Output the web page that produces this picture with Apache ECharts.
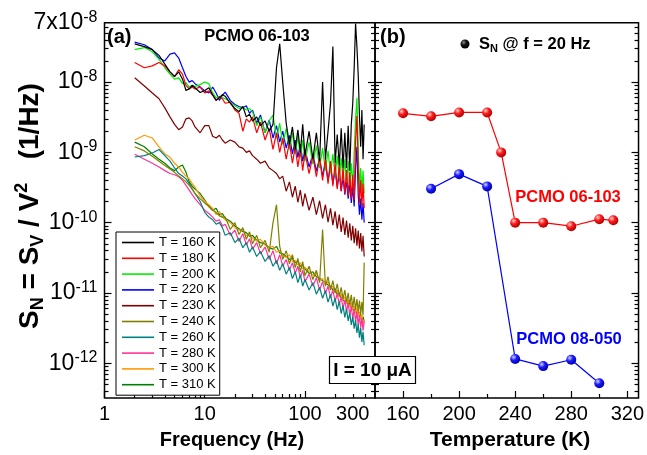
<!DOCTYPE html>
<html><head><meta charset="utf-8">
<script src="https://cdn.jsdelivr.net/npm/echarts@6/dist/echarts.min.js"></script>
<style>html,body{margin:0;padding:0;background:#fff}#c{width:647px;height:455px}</style>
</head><body><div id="c"></div>
<script>
// ---------- DATA ----------
const freq = [2,2.5,3,3.5,4,4.5,5,5.5,6,6.5,7,7.5,8,9,10,11,12,13,14,15,16,18,20,22,24,26,28,30,33,36,40,44,48,52,56,60,65,70,75,80,85,90,95,100,110,120,130,140,150,160,170,180,190,200,210,220,230,240,250,260,270,280,290,300,310,320,330,340,350,360,370,380,390];
const s160 = [3.5e-8,3.2e-8,2.9e-8,2.4e-8,1.8e-8,1.4e-8,1.2e-8,1.4e-8,1.1e-8,7.6e-9,
8e-9,9e-9,8.3e-9,7.1e-9,7.6e-9,8.3e-9,6.6e-9,5.5e-9,6e-9,6.6e-9,
6.3e-9,5e-9,4.2e-9,3.8e-9,4.5e-9,3.2e-9,3.5e-9,2.8e-9,3.2e-9,2.4e-9,
2.8e-9,2e-9,2.5e-9,1.6e-8,3.5e-8,1e-8,2.6e-9,1.3e-9,2.3e-9,1.1e-9,
2.1e-9,1e-9,2.5e-9,9e-10,2e-9,8e-10,1.9e-9,7.5e-10,1e-8,8e-10,
2e-9,5e-9,3.2e-8,7e-10,1.8e-9,6.5e-10,2.2e-9,6e-10,1.9e-9,6e-10,
2.4e-9,5.5e-10,2.5e-9,5e-9,1.6e-8,6.8e-8,3.2e-8,1.26e-8,3.2e-9,1.2e-9,
4e-9,8e-10,2.5e-9];
const s180 = [1.9e-8,1.6e-8,1.7e-8,1.9e-8,1.7e-8,1.4e-8,1.2e-8,1.5e-8,1.3e-8,9e-9,
8e-9,8.5e-9,8e-9,8.5e-9,7e-9,7.5e-9,6.5e-9,5.5e-9,6.2e-9,5.8e-9,
5e-9,5.2e-9,4e-9,3.6e-9,2e-9,3e-9,2.7e-9,3.2e-9,1.9e-9,2.7e-9,
1.5e-9,2.2e-9,1.1e-9,1.9e-9,1e-9,1.6e-9,8e-10,1.4e-9,7e-10,1.2e-9,
6.2e-10,1.1e-9,5.5e-10,1e-9,5e-10,9e-10,4.5e-10,8.5e-10,4e-10,8e-10,
3.6e-10,7.5e-10,3.3e-10,7e-10,3e-10,6.5e-10,2.8e-10,6e-10,2.6e-10,5.6e-10,
2.4e-10,5.2e-10,2.2e-10,4.8e-10,2.1e-10,1.5e-9,3.3e-9,6e-10,1.9e-10,4e-10,
1.7e-10,3.6e-10,1.6e-10];
const s200 = [2.9e-8,3.1e-8,2.7e-8,2.1e-8,1.6e-8,1.3e-8,1.1e-8,1.15e-8,9.5e-9,9.8e-9,
8.5e-9,9e-9,8.7e-9,9.2e-9,1e-8,9.5e-9,7e-9,6e-9,6.3e-9,6e-9,
5.8e-9,5.2e-9,4.6e-9,4.2e-9,4.4e-9,4e-9,4.2e-9,3.8e-9,2.4e-9,3.2e-9,
1.9e-9,2.8e-9,3.4e-9,1.6e-9,2.6e-9,1.3e-9,2.2e-9,1.1e-9,1.9e-9,9.5e-10,
1.7e-9,8.5e-10,1.5e-9,7.5e-10,1.4e-9,6.8e-10,1.25e-9,6e-10,1.15e-9,5.5e-10,
1.05e-9,5e-10,9.5e-10,4.6e-10,9e-10,4.2e-10,8.4e-10,4e-10,8e-10,3.7e-10,
7.5e-10,3.4e-10,7e-10,3.2e-10,1e-9,3e-9,6e-9,1.2e-9,3e-10,6e-10,
2.8e-10,5.5e-10,2.6e-10];
const s220 = [3.7e-8,3.4e-8,2.9e-8,2.2e-8,2e-8,2.5e-8,2.6e-8,2.2e-8,1.6e-8,1.2e-8,
1e-8,1.05e-8,9.5e-9,8.5e-9,7.5e-9,7e-9,8.5e-9,7e-9,5.5e-9,6.5e-9,
7.2e-9,5.5e-9,4.8e-9,4.5e-9,4.3e-9,4.6e-9,3.6e-9,4e-9,2.6e-9,3.4e-9,
1.9e-9,2.9e-9,1.6e-9,2.4e-9,1.4e-9,2e-9,1.15e-9,1.75e-9,9.5e-10,1.5e-9,
8.5e-10,1.3e-9,7.5e-10,1.1e-9,6.2e-10,9.5e-10,5.4e-10,8.2e-10,4.6e-10,7.2e-10,
4e-10,6.4e-10,3.6e-10,5.6e-10,3.2e-10,5e-10,2.8e-10,4.5e-10,2.5e-10,4e-10,
2.2e-10,3.6e-10,1.9e-10,3.2e-10,1.7e-10,6e-10,1.2e-9,2.5e-10,1.3e-10,2.2e-10,
1.1e-10,1.9e-10,1e-10];
const s230 = [1.15e-8,8.8e-9,7e-9,5.8e-9,4.3e-9,3.2e-9,2.5e-9,2.1e-9,2.3e-9,3e-9,
3.1e-9,2.8e-9,2.3e-9,1.9e-9,2.4e-9,2.4e-9,1.7e-9,1.6e-9,1.75e-9,1.5e-9,
1.35e-9,1.5e-9,1.4e-9,1.2e-9,1.15e-9,1e-9,1.05e-9,9e-10,8e-10,7e-10,
7.5e-10,6e-10,5.5e-10,5e-10,4.2e-10,4.6e-10,2.8e-10,3.8e-10,2.3e-10,3.3e-10,
1.95e-10,2.9e-10,1.7e-10,2.6e-10,1.5e-10,2.3e-10,1.3e-10,2.05e-10,1.15e-10,1.8e-10,
1.02e-10,1.6e-10,9.2e-11,1.45e-10,8.2e-11,1.3e-10,7.4e-11,1.18e-10,6.7e-11,1.07e-10,
6.1e-11,9.8e-11,5.6e-11,9e-11,5.1e-11,8.3e-11,4.7e-11,7.7e-11,4.3e-11,7.1e-11,
3.9e-11,6.5e-11,3.3e-11];
const s240 = [1.2e-9,1.05e-9,8.8e-10,7.5e-10,6.5e-10,5.8e-10,5.2e-10,4.6e-10,4.2e-10,3.8e-10,
3.4e-10,3e-10,2.6e-10,2.2e-10,1.9e-10,1.7e-10,1.5e-10,1.4e-10,1.25e-10,1.2e-10,
1.2e-10,8e-11,1e-10,6.8e-11,8.5e-11,5.8e-11,7.4e-11,5e-11,6.6e-11,4.4e-11,
5.6e-11,3.8e-11,1e-10,1.8e-10,4.6e-11,3e-11,4e-11,2.6e-11,3.5e-11,2.3e-11,
3.1e-11,2e-11,2.8e-11,1.75e-11,2.4e-11,1.55e-11,2.1e-11,1.4e-11,8e-11,1.25e-11,
1.7e-11,1.1e-11,1.5e-11,1e-11,1.35e-11,9e-12,1.2e-11,8.2e-12,1.1e-11,7.4e-12,
1e-11,6.8e-12,9.4e-12,6.2e-12,8.8e-12,5.8e-12,8.2e-12,5.4e-12,7.8e-12,5e-12,
7.4e-12,4.8e-12,2.7e-11];
const s260 = [8.6e-10,9e-10,9.8e-10,1.1e-9,9e-10,7.5e-10,6e-10,5e-10,4.6e-10,4.2e-10,
3.6e-10,3e-10,2.6e-10,2e-10,1.4e-10,1.2e-10,1.1e-10,9.5e-11,1e-10,8.5e-11,
6.6e-11,7.2e-11,5.2e-11,6e-11,4.4e-11,5.2e-11,3.8e-11,4.5e-11,3.3e-11,3.9e-11,
2.8e-11,3.4e-11,2.4e-11,2.9e-11,2.1e-11,2.6e-11,1.85e-11,2.3e-11,1.6e-11,2e-11,
1.4e-11,1.8e-11,1.25e-11,1.55e-11,1.1e-11,1.4e-11,9.6e-12,1.2e-11,8.4e-12,1.08e-11,
7.4e-12,9.5e-12,6.5e-12,8.4e-12,5.8e-12,7.5e-12,5.1e-12,6.6e-12,4.5e-12,5.9e-12,
4e-12,5.2e-12,3.5e-12,4.6e-12,3.1e-12,4.1e-12,2.7e-12,3.6e-12,2.3e-12,3.2e-12,
2e-12,2.8e-12,1.8e-12];
const s280 = [9.4e-10,8e-10,7e-10,6.2e-10,5.5e-10,5e-10,4.8e-10,4.5e-10,4e-10,3.4e-10,
2.9e-10,2.5e-10,2.2e-10,1.8e-10,1.5e-10,1.35e-10,1.2e-10,1.05e-10,1.1e-10,9e-11,
9.5e-11,6.6e-11,7.8e-11,5.4e-11,7e-11,4.8e-11,5.9e-11,4.2e-11,5.2e-11,3.6e-11,
4.5e-11,3e-11,4e-11,2.6e-11,3.5e-11,2.4e-11,3e-11,2.1e-11,2.7e-11,1.9e-11,
2.4e-11,1.65e-11,2.1e-11,1.45e-11,1.85e-11,1.25e-11,1.65e-11,1.1e-11,1.45e-11,9.8e-12,
1.25e-11,8.6e-12,1.1e-11,7.6e-12,9.8e-12,6.8e-12,8.8e-12,6e-12,8e-12,5.4e-12,
7.2e-12,4.8e-12,6.5e-12,4.3e-12,5.9e-12,3.9e-12,5.3e-12,3.5e-12,4.8e-12,3.2e-12,
4.4e-12,2.9e-12,3.9e-12];
const s300 = [1.5e-9,1.75e-9,1.6e-9,1.2e-9,9.5e-10,8.5e-10,7e-10,6.2e-10,5.2e-10,4.6e-10,
4.2e-10,3.6e-10,3.2e-10,2.4e-10,2e-10,1.8e-10,1.6e-10,1.3e-10,1.45e-10,1.2e-10,
1.1e-10,1e-10,8.5e-11,7.8e-11,8e-11,6.5e-11,6.8e-11,6e-11,5.5e-11,5.8e-11,
4.8e-11,4.4e-11,4.6e-11,3.8e-11,4e-11,3.4e-11,3.2e-11,3.5e-11,2.8e-11,2.9e-11,
2.5e-11,2.7e-11,2.2e-11,2.3e-11,2e-11,1.8e-11,1.9e-11,1.5e-11,1.6e-11,1.3e-11,
1.45e-11,1.15e-11,1.25e-11,1e-11,1.1e-11,8.8e-12,9.8e-12,8e-12,8.8e-12,7e-12,
8e-12,6.4e-12,7.2e-12,5.8e-12,6.5e-12,5.2e-12,6e-12,4.6e-12,5.4e-12,4.2e-12,
4.8e-12,3.6e-12,4.2e-12];
const s310 = [1.4e-9,1.2e-9,9.5e-10,8e-10,7e-10,6e-10,5.5e-10,6.2e-10,6.6e-10,5.2e-10,
3.8e-10,3.3e-10,3e-10,2.6e-10,2.1e-10,1.7e-10,1.5e-10,1.6e-10,1.3e-10,1.35e-10,
1.15e-10,1.05e-10,9e-11,8.2e-11,7.5e-11,7.2e-11,6.4e-11,6.6e-11,5.6e-11,5.2e-11,
5e-11,4.4e-11,4.2e-11,4.6e-11,3.7e-11,3.6e-11,3.3e-11,3e-11,3.1e-11,2.7e-11,
2.8e-11,2.4e-11,2.5e-11,2.2e-11,1.9e-11,2e-11,1.7e-11,1.6e-11,1.5e-11,1.4e-11,
1.3e-11,1.25e-11,1.1e-11,1.15e-11,9.5e-12,1e-11,8.5e-12,9e-12,7.5e-12,8.2e-12,
6.8e-12,7.4e-12,6.2e-12,6.6e-12,5.6e-12,6e-12,5e-12,5.4e-12,4.6e-12,5e-12,
4.2e-12,4.6e-12,3.8e-12];

const legendLabels = ['T = 160 K','T = 180 K','T = 200 K','T = 220 K','T = 230 K','T = 240 K','T = 260 K','T = 280 K','T = 300 K','T = 310 K'];
const spectra = [s160,s180,s200,s220,s230,s240,s260,s280,s300,s310];
const lineColors = ['#000000','#ff0000','#00ee00','#0000ff','#800000','#808000','#008080','#ff3399','#ff9900','#008000'];

const tempsA = [160,180,200,220,230,240,260,280,300,310];
const snA = [3.6e-9,3.26e-9,3.7e-9,3.7e-9,1.0e-9,1.0e-10,1.0e-10,8.9e-11,1.12e-10,1.08e-10];
const tempsB = [180,200,220,240,260,280,300];
const snB = [3.03e-10,4.9e-10,3.28e-10,1.15e-12,9.1e-13,1.12e-12,5.2e-13];

const freqLabels = [1,10,100,300];
const freqMajor = [1,10,100];
const tempLabels = [160,200,240,280,320];
const tempMinor = [180,220,260,300];
const yLabels = [1e-12,1e-11,1e-10,1e-9,1e-8,7e-8];
const yMajor = [1e-12,1e-11,1e-10,1e-9,1e-8];

// ---------- BUILD ----------
const F = '"Liberation Sans", Arial, sans-serif';
const freqMinor = [];
for (const d of [1,10,100]) for (let k=2;k<=9;k++) if (k*d<500) freqMinor.push(k*d);
const yMinor = [];
for (let e=-13;e<=-8;e++) for (let k=2;k<=9;k++) { const v=k*Math.pow(10,e); if (v>3.2e-13 && v<6.9e-8) yMinor.push(v); }

const YMIN = 3.2e-13, YMAX = 7.0001e-8;
const tickStyle = {color:'#000', width:1.2};

function yLabelFmt(v){
  const e = Math.floor(Math.log10(v)+1e-9);
  const m = Math.round(v/Math.pow(10,e));
  return (m===1 ? '{b|10}' : '{b|'+m+'x10}') + '{s|'+e+'}';
}
const yRich = {
  b:{fontSize:23, fontFamily:F, color:'#000', lineHeight:27},
  s:{fontSize:16, fontFamily:F, color:'#000', lineHeight:16, verticalAlign:'top'}
};

function yAx(grid, pos, major, labels){
  return {
    type:'log', logBase:10, gridIndex:grid, position:pos, min:YMIN, max:YMAX,
    axisLine:{show:false},
    axisTick:{show:true, inside:true, length: major?7:4, lineStyle:tickStyle, customValues: major?yMajor:yMinor},
    axisLabel: labels ? {show:true, customValues:yLabels, formatter:yLabelFmt, rich:yRich, margin:7} : {show:false},
    splitLine:{show:false}
  };
}

const xAxes = [
  {type:'log', logBase:10, gridIndex:0, position:'bottom', min:1, max:500,
   axisLine:{show:false},
   axisTick:{inside:true, length:7, lineStyle:tickStyle, customValues:freqMajor},
   axisLabel:{customValues:freqLabels, fontSize:20, fontFamily:F, color:'#000', margin:6},
   splitLine:{show:false}},
  {type:'log', logBase:10, gridIndex:0, position:'bottom', min:1, max:500,
   axisLine:{show:false},
   axisTick:{inside:true, length:4, lineStyle:tickStyle, customValues:freqMinor},
   axisLabel:{show:false}, splitLine:{show:false}},
  {type:'value', gridIndex:1, position:'bottom', min:140, max:328,
   axisLine:{show:false},
   axisTick:{inside:true, length:7, lineStyle:tickStyle, customValues:tempLabels},
   axisLabel:{customValues:tempLabels, fontSize:20, fontFamily:F, color:'#000', margin:6},
   splitLine:{show:false}},
  {type:'value', gridIndex:1, position:'bottom', min:140, max:328,
   axisLine:{show:false},
   axisTick:{inside:true, length:4, lineStyle:tickStyle, customValues:tempMinor},
   axisLabel:{show:false}, splitLine:{show:false}}
];
const yAxes = [
  yAx(0,'left',true,true), yAx(0,'left',false,false), yAx(0,'right',true,false), yAx(0,'right',false,false),
  yAx(1,'left',true,false), yAx(1,'left',false,false), yAx(1,'right',true,false), yAx(1,'right',false,false)
];

const series = [];
for (let i=spectra.length-1;i>=0;i--){
  series.push({
    type:'line', name:legendLabels[i], xAxisIndex:0, yAxisIndex:0,
    data: freq.map((f,j)=>[f, spectra[i][j]]),
    symbol:'none', showSymbol:false, lineStyle:{color:lineColors[i], width:1.2}, itemStyle:{color:lineColors[i]},
    silent:true, clip:true
  });
}
function sphere(c0,c1,c2){
  return {type:'radial', x:0.35, y:0.32, r:0.7, colorStops:[{offset:0,color:c0},{offset:0.45,color:c1},{offset:1,color:c2}]};
}
series.push({type:'line', name:'PCMO 06-103', xAxisIndex:2, yAxisIndex:4,
  data: tempsA.map((t,j)=>[t,snA[j]]), symbol:'circle', symbolSize:10,
  lineStyle:{color:'#ff0000', width:1.2}, itemStyle:{color:sphere('#ffd6d6','#ff1a1a','#b00000')}});
series.push({type:'line', name:'PCMO 08-050', xAxisIndex:2, yAxisIndex:4,
  data: tempsB.map((t,j)=>[t,snB[j]]), symbol:'circle', symbolSize:10,
  lineStyle:{color:'#0000ff', width:1.2}, itemStyle:{color:sphere('#d6d6ff','#1a1aff','#0000a8')}});

const bold = (size, color) => ({fontSize:size, fontWeight:'bold', fontFamily:F, fill:color||'#000'});

const option = {
  animation:false,
  backgroundColor:'#fff',
  grid:[
    {left:104.5, top:22.7, width:270.5, height:375.3, show:true, borderColor:'#000', borderWidth:1.5, backgroundColor:'transparent'},
    {left:375, top:22.7, width:266, height:375.3, show:true, borderColor:'#000', borderWidth:1.5, backgroundColor:'transparent'}
  ],
  xAxis:xAxes, yAxis:yAxes,
  legend:{
    data:legendLabels, orient:'vertical', left:116, top:232,
    icon:'rect', itemWidth:32, itemHeight:1.6, itemGap:0.8, padding:[3,4,3,6],
    borderColor:'#000', borderWidth:1, backgroundColor:'#fff',
    textStyle:{fontSize:13, fontFamily:F, color:'#000', lineHeight:15},
    selectedMode:false
  },
  series:series,
  graphic:[
    {type:'text', left:107, top:27, z:50, style:Object.assign({text:'(a)'}, bold(20))},
    {type:'text', x:257, y:36, z:50, style:Object.assign({text:'PCMO 06-103', align:'center', verticalAlign:'middle'}, bold(16.5))},
    {type:'text', left:380, top:27, z:50, style:Object.assign({text:'(b)'}, bold(20))},
    {type:'circle', z:50, shape:{cx:465, cy:44, r:4.5}, style:{fill:{type:'radial',x:0.35,y:0.32,r:0.7,colorStops:[{offset:0,color:'#888'},{offset:0.45,color:'#111'},{offset:1,color:'#000'}]}}},
    {type:'text', x:479, y:44, z:50, style:{text:'{b|S}{n|N}{b| @ f = 20 Hz}', verticalAlign:'middle', align:'left',
      rich:{b:{fontSize:16.5,fontWeight:'bold',fontFamily:F,color:'#000',lineHeight:20}, n:{fontSize:11,fontWeight:'bold',fontFamily:F,color:'#000',lineHeight:11,verticalAlign:'bottom'}}}},
    {type:'text', x:568, y:197, z:50, style:Object.assign({text:'PCMO 06-103', align:'center', verticalAlign:'middle'}, bold(16.5,'#ff0000'))},
    {type:'text', x:569, y:339, z:50, style:Object.assign({text:'PCMO 08-050', align:'center', verticalAlign:'middle'}, bold(16.5,'#0000ff'))},
    {type:'rect', z:60, shape:{x:329.5, y:356.5, width:86, height:27}, style:{fill:'#fff', stroke:'#000', lineWidth:1.2}},
    {type:'text', x:372.5, y:370.5, z:61, style:Object.assign({text:'I = 10 μA', align:'center', verticalAlign:'middle'}, bold(19))},
    {type:'text', x:232, y:440, z:50, style:Object.assign({text:'Frequency (Hz)', align:'center', verticalAlign:'middle'}, bold(20))},
    {type:'text', x:510, y:440, z:50, style:Object.assign({text:'Temperature (K)', align:'center', verticalAlign:'middle'}, bold(21))},
    {type:'text', x:30, y:206, rotation:Math.PI/2, z:50, style:{
      text:'{b|S}{sub|N}{b| = S}{sub|V}{b| / V}{sup|2}{b|   (1/Hz)}', align:'center', verticalAlign:'middle',
      rich:{
        b:{fontSize:28, fontWeight:'bold', fontFamily:F, color:'#000', lineHeight:34},
        sub:{fontSize:18, fontWeight:'bold', fontFamily:F, color:'#000', lineHeight:18, verticalAlign:'bottom'},
        sup:{fontSize:18, fontWeight:'bold', fontFamily:F, color:'#000', lineHeight:18, verticalAlign:'top'}
      }}}
  ]
};
const chart = echarts.init(document.getElementById('c'), null, {renderer:'canvas'});
chart.setOption(option);
</script>
</body></html>
